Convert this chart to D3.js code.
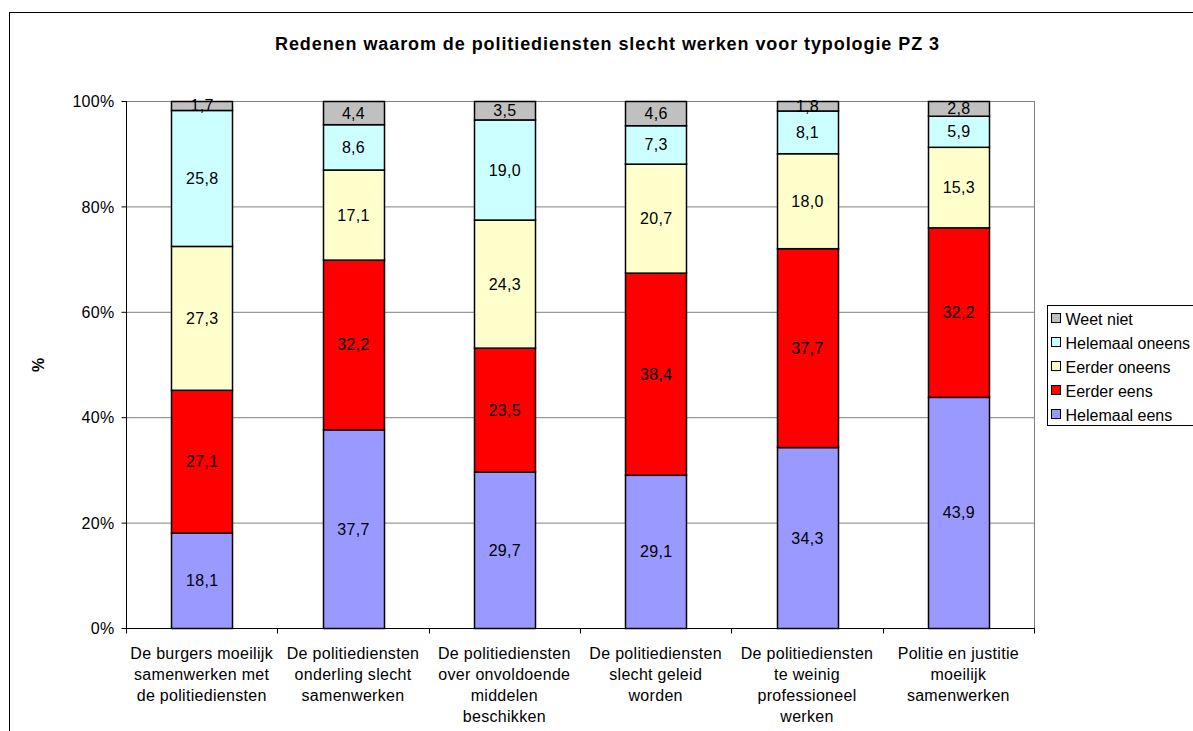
<!DOCTYPE html>
<html>
<head>
<meta charset="utf-8">
<script src="https://cdn.jsdelivr.net/npm/d3@7"></script>
<style>
body { margin: 0; background: #fff; }
text { font-family: "Liberation Sans", Arial, sans-serif; }
.lbl { font-size: 16px; letter-spacing: 0.3px; }
.leg { font-size: 16px; letter-spacing: 0px; }
</style>
</head>
<body>
<script>
// categorieen (meerdere regels per label)
var categories = [
    ["De burgers moeilijk", "samenwerken met", "de politiediensten"],
    ["De politiediensten", "onderling slecht", "samenwerken"],
    ["De politiediensten", "over onvoldoende", "middelen", "beschikken"],
    ["De politiediensten", "slecht geleid", "worden"],
    ["De politiediensten", "te weinig", "professioneel", "werken"],
    ["Politie en justitie", "moeilijk", "samenwerken"]
];
var seriesNames = ["Helemaal eens", "Eerder eens", "Eerder oneens", "Helemaal oneens", "Weet niet"];
var helemaalEens   = [18.1, 37.7, 29.7, 29.1, 34.3, 43.9];
var eerderEens     = [27.1, 32.2, 23.5, 38.4, 37.7, 32.2];
var eerderOneens   = [27.3, 17.1, 24.3, 20.7, 18.0, 15.3];
var helemaalOneens = [25.8, 8.6, 19.0, 7.3, 8.1, 5.9];
var weetNiet       = [1.7, 4.4, 3.5, 4.6, 1.8, 2.8];
var yTicks = [0, 20, 40, 60, 80, 100];
var colors = ["#9999FF", "#FF0000", "#FFFFCC", "#CCFFFF", "#C0C0C0"];

var W = 1193, H = 731;
var plot = {left: 126, right: 1034, top: 101, bottom: 628};

var svg = d3.select("body").append("svg")
    .attr("width", W).attr("height", H);

// rand rond de grafiek
svg.append("rect")
    .attr("x", 9.5).attr("y", 12.5)
    .attr("width", W + 20).attr("height", H + 20)
    .attr("fill", "#fff").attr("stroke", "#000");

svg.append("text")
    .attr("x", 607).attr("y", 50)
    .attr("text-anchor", "middle")
    .attr("font-weight", "bold").attr("font-size", 18)
    .attr("textLength", 664).attr("lengthAdjust", "spacing")
    .text("Redenen waarom de politiediensten slecht werken voor typologie PZ 3");

// data in rijen
var rows = categories.map(function(c, i) {
    var vals = [helemaalEens[i], eerderEens[i], eerderOneens[i], helemaalOneens[i], weetNiet[i]];
    var tot = d3.sum(vals);
    var r = {i: i, vals: vals};
    seriesNames.forEach(function(s, k) { r[s] = vals[k] / tot * 100; });
    return r;
});

var x = d3.scaleBand().domain(d3.range(categories.length))
    .range([plot.left, plot.right]).paddingInner(0.6).paddingOuter(0.3);
var y = d3.scaleLinear().domain([0, 100]).range([plot.bottom, plot.top]);

// rasterlijnen
svg.selectAll(".grid").data(yTicks.slice(1)).enter().append("line")
    .attr("x1", plot.left).attr("x2", plot.right)
    .attr("y1", function(d) { return y(d) + 0.5; })
    .attr("y2", function(d) { return y(d) + 0.5; })
    .attr("stroke", "#808080");
svg.append("line")
    .attr("x1", plot.right + 0.5).attr("x2", plot.right + 0.5)
    .attr("y1", plot.top).attr("y2", plot.bottom)
    .attr("stroke", "#808080");

var stack = d3.stack().keys(seriesNames)(rows);

var groups = svg.selectAll(".serie").data(stack).enter().append("g")
    .attr("fill", function(d, k) { return colors[k]; });

groups.selectAll("rect").data(function(d) { return d; }).enter().append("rect")
    .attr("x", function(d) { return Math.round(x(d.data.i)) + 0.5; })
    .attr("y", function(d) { return y(d[1]) + 0.5; })
    .attr("width", Math.round(x.bandwidth()))
    .attr("height", function(d) { return y(d[0]) - y(d[1]); })
    .attr("stroke", "#000").attr("stroke-width", 1.5);

// waarden in de staven
stack.forEach(function(s, k) {
    svg.selectAll(".val" + k).data(s).enter().append("text")
        .attr("class", "lbl")
        .attr("x", function(d) { return x(d.data.i) + x.bandwidth() / 2 + 0.5; })
        .attr("y", function(d) { return (y(d[0]) + y(d[1])) / 2 + 6; })
        .attr("text-anchor", "middle")
        .text(function(d) { return d.data.vals[k].toFixed(1).replace(".", ","); });
});

// assen
svg.append("g").attr("transform", "translate(" + (plot.left + 0.5) + ",0)")
    .call(d3.axisLeft(y).tickValues(yTicks).tickSize(5).tickPadding(7)
        .tickFormat(function(d) { return d + "%"; }))
    .call(function(g) {
        g.select(".domain").attr("d", "M0," + plot.top + "V" + (plot.bottom + 0.5));
        g.selectAll("text").attr("class", "lbl").attr("font-size", null)
            .attr("font-family", null).attr("dy", "0.35em");
    });

var xb = d3.scaleLinear().domain([0, categories.length]).range([plot.left, plot.right]);
var xg = svg.append("g").attr("transform", "translate(0," + (plot.bottom + 0.5) + ")");
xg.append("line").attr("x1", plot.left).attr("x2", plot.right + 1).attr("stroke", "#000");
xg.selectAll(".tk").data(d3.range(categories.length + 1)).enter().append("line")
    .attr("x1", function(d) { return Math.round(xb(d)) + 0.5; })
    .attr("x2", function(d) { return Math.round(xb(d)) + 0.5; })
    .attr("y1", 0).attr("y2", 5).attr("stroke", "#000");

categories.forEach(function(c, i) {
    var t = svg.append("text")
        .attr("class", "lbl").attr("text-anchor", "middle")
        .attr("x", x(i) + x.bandwidth() / 2).attr("y", 659);
    c.forEach(function(line, j) {
        t.append("tspan").attr("x", x(i) + x.bandwidth() / 2)
            .attr("dy", j === 0 ? 0 : 21).text(line);
    });
});

svg.append("text")
    .attr("transform", "translate(44,365) rotate(-90)")
    .attr("text-anchor", "middle").attr("font-weight", "bold").attr("font-size", 16)
    .text("%");

// legenda
var lg = svg.append("g").attr("transform", "translate(1047.5,305.5)");
lg.append("rect").attr("width", 160).attr("height", 120)
    .attr("fill", "#fff").attr("stroke", "#000");
seriesNames.slice().reverse().forEach(function(s, j) {
    var k = seriesNames.length - 1 - j;
    var row = lg.append("g").attr("transform", "translate(4," + (8 + j * 24) + ")");
    row.append("rect").attr("width", 9).attr("height", 9)
        .attr("fill", colors[k]).attr("stroke", "#000");
    row.append("text").attr("class", "leg").attr("x", 14).attr("y", 11).text(s);
});
</script>
</body>
</html>
